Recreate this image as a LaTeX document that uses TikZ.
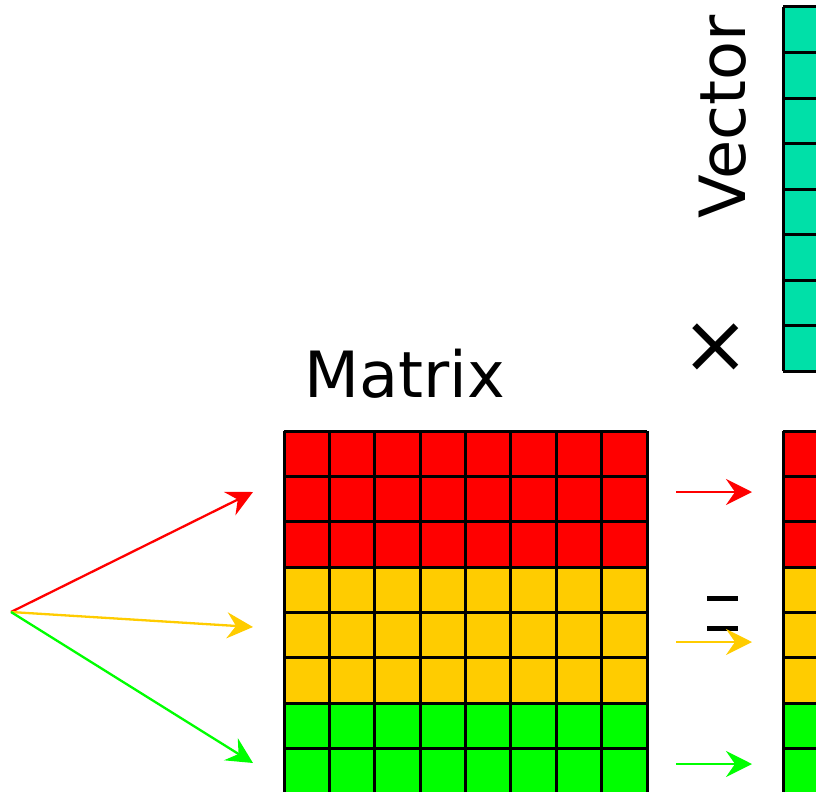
\documentclass[tikz,border=0pt]{standalone}
\usepackage{fontspec}
\setmainfont{DejaVu Sans}
\usetikzlibrary{arrows.meta}
\definecolor{cred}{RGB}{255,0,0}
\definecolor{cyel}{RGB}{255,204,0}
\definecolor{cgrn}{RGB}{0,255,0}
\definecolor{cteal}{RGB}{0,224,168}
\begin{document}
\begin{tikzpicture}[x=1bp,y=-1bp,
  gridline/.style={draw=black,line width=3bp},
  arr/.style={line width=2.3bp,-{Stealth[length=26bp,width=26bp,inset=9bp]}},
  bigtext/.style={inner sep=0pt,font=\fontsize{64}{64}\selectfont}]
\useasboundingbox (0,0) rectangle (816,792);
\clip (0,0) rectangle (816,792);
% matrix
\def\cs{45.375}
\foreach \r/\c in {0/cred,1/cred,2/cred,3/cyel,4/cyel,5/cyel,6/cgrn,7/cgrn}{
  \fill[\c] (284,{431+\r*\cs}) rectangle (647,{431+(\r+1)*\cs});
  \fill[\c] (783,{431+\r*\cs}) rectangle (830,{431+(\r+1)*\cs});
}
\foreach \i in {0,...,8}{
  \draw[gridline] ({284+\i*\cs},431) -- ({284+\i*\cs},800);
  \draw[gridline] (284,{431+\i*\cs}) -- (647,{431+\i*\cs});
  \draw[gridline] (783,{431+\i*\cs}) -- (830,{431+\i*\cs});
}
\draw[gridline] (783,431) -- (783,800);
% top vector
\fill[cteal] (783,7) rectangle (830,371);
\foreach \i in {0,...,8}{
  \draw[gridline] (783,{7+\i*45.5}) -- (830,{7+\i*45.5});
}
\draw[gridline] (783,7) -- (783,371);
% texts
\node[bigtext,anchor=base west] (mat) at (304,397) {Matrix};
\node[bigtext,rotate=90,anchor=base] (vec) at (745,117) {Vector};
\node[inner sep=0pt,font=\fontsize{82}{82}\selectfont] (times) at (716,348) {×};
% equals sign
\draw[line width=5bp] (707,598) -- (738,598);
\draw[line width=5bp] (707,628) -- (738,628);
% arrows
\coordinate (o) at (11,612);
\coordinate (tr) at (253,492);
\coordinate (ty) at (253,627);
\coordinate (tg) at (253,763);
\draw[arr,cred] (o) -- (tr);
\draw[arr,cyel] (o) -- (ty);
\draw[arr,cgrn] (o) -- (tg);
\coordinate (sr) at (676,492); \coordinate (er) at (752,492);
\coordinate (sy) at (676,642); \coordinate (ey) at (752,642);
\coordinate (sg) at (676,764); \coordinate (eg) at (752,764);
\draw[arr,cred] (sr) -- (er);
\draw[arr,cyel] (sy) -- (ey);
\draw[arr,cgrn] (sg) -- (eg);
\end{tikzpicture}
\end{document}
